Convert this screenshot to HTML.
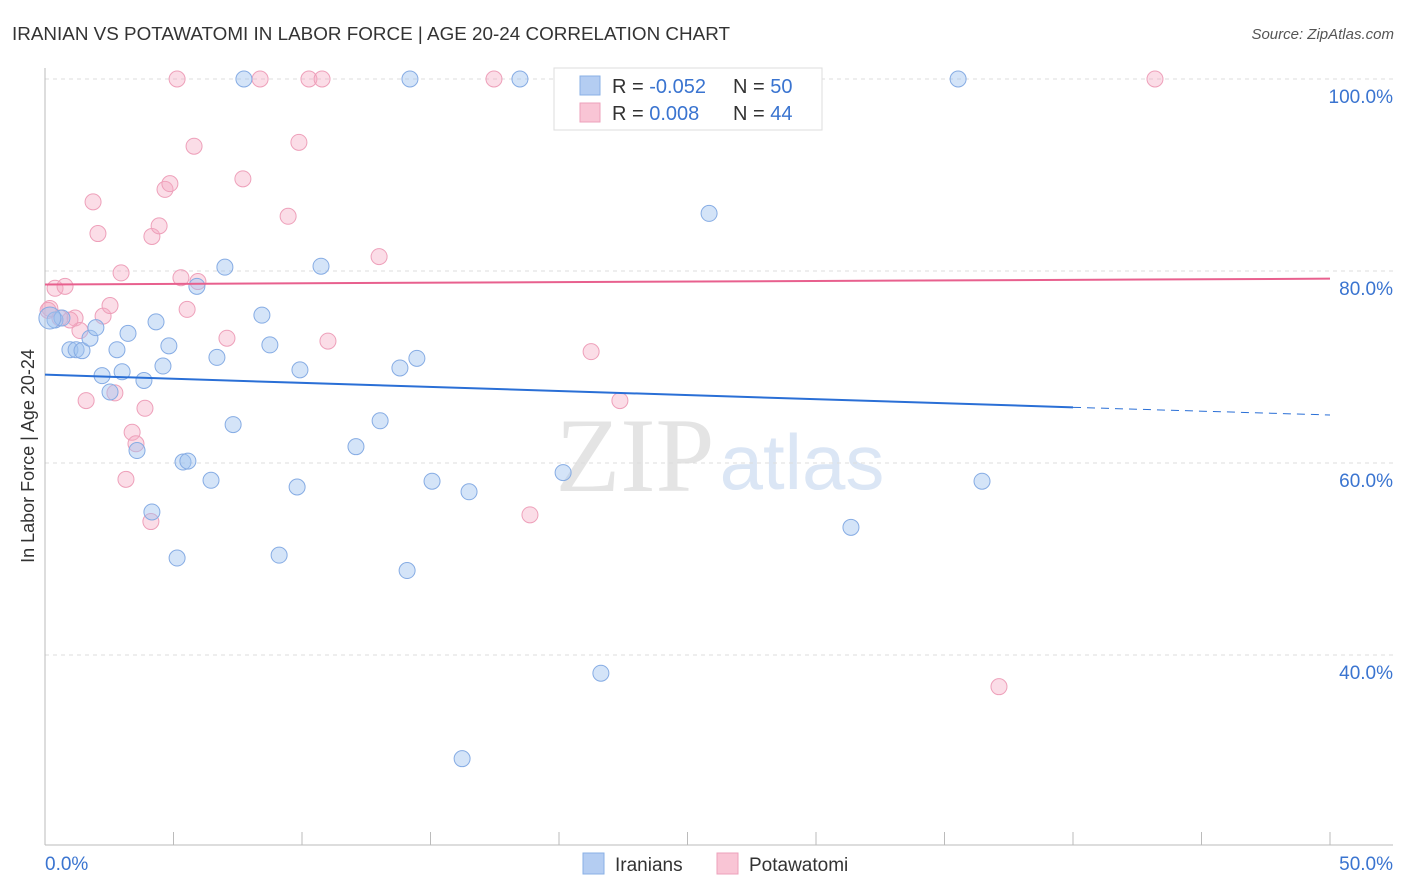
<!DOCTYPE html>
<html><head><meta charset="utf-8"><style>
body{margin:0;background:#fff;font-family:"Liberation Sans",sans-serif;}
svg{display:block}
</style></head><body>
<svg id="chart" width="1406" height="892">
<text x="12" y="40" font-size="18" fill="#333" textLength="718" lengthAdjust="spacingAndGlyphs">IRANIAN VS POTAWATOMI IN LABOR FORCE | AGE 20-24 CORRELATION CHART</text>
<text x="1394" y="39" font-size="15" fill="#555" font-style="italic" text-anchor="end">Source: ZipAtlas.com</text>
<g><text x="635" y="491" font-size="106" fill="#e4e4e4" font-family="Liberation Serif, serif" text-anchor="middle">ZIP</text><text x="802" y="489" font-size="78" fill="#dbe6f5" text-anchor="middle">atlas</text></g>
<g id="grid"></g>
<g id="axes"></g>
<g id="marks"></g>
<text transform="translate(34,456) rotate(-90)" font-size="18" fill="#333" text-anchor="middle">In Labor Force | Age 20-24</text>
<g>
<rect x="554" y="68" width="268" height="62" fill="#fff" stroke="#ddd"/>
<rect x="580" y="76" width="20" height="19" fill="#b4cdf2" stroke="#8ab0e6"/>
<rect x="580" y="103" width="20" height="19" fill="#f9c5d5" stroke="#eda1bb"/>
<text x="612" y="93" font-size="20" fill="#333">R = <tspan fill="#3a74d0">-0.052</tspan></text>
<text x="733" y="93" font-size="20" fill="#333">N = <tspan fill="#3a74d0">50</tspan></text>
<text x="612" y="120" font-size="20" fill="#333">R = <tspan fill="#3a74d0"> 0.008</tspan></text>
<text x="733" y="120" font-size="20" fill="#333">N = <tspan fill="#3a74d0">44</tspan></text>
</g>
<g>
<rect x="583" y="853" width="21" height="21" fill="#b4cdf2" stroke="#8ab0e6"/>
<text x="615" y="871" font-size="19" fill="#333">Iranians</text>
<rect x="717" y="853" width="21" height="21" fill="#f9c5d5" stroke="#eda1bb"/>
<text x="749" y="871" font-size="19" fill="#333">Potawatomi</text>
</g>
</svg>
<script>
const blueX=[0.39,0.66,0.97,1.21,1.44,1.75,1.98,2.22,2.53,2.80,3.00,3.23,3.85,3.58,4.16,4.32,4.59,4.82,5.14,5.37,5.56,5.91,6.46,6.69,7.00,7.32,7.74,8.44,8.75,9.11,9.81,9.92,10.74,12.10,13.04,13.81,14.09,14.20,14.47,15.06,16.23,16.50,18.48,20.16,21.63,25.84,31.36,35.53,36.46,0.19];
const blueY=[74.9,75.1,71.8,71.8,71.7,73.0,74.1,69.1,67.4,71.8,69.5,73.5,68.6,61.3,54.9,74.7,70.1,72.2,50.1,60.1,60.2,78.4,58.2,71.0,80.4,64.0,100,75.4,72.3,50.4,57.5,69.7,80.5,61.7,64.4,69.9,48.8,100,70.9,58.1,29.2,57.0,100,59.0,38.1,86.0,53.3,100,58.1,75.1];
const pinkX=[0.19,0.39,0.78,0.58,1.17,1.36,1.60,1.87,2.06,2.26,2.53,2.72,2.96,3.15,3.39,3.54,3.89,4.12,4.16,4.44,4.67,4.86,5.14,5.29,5.53,5.80,5.95,7.08,7.70,8.37,9.46,9.88,10.27,10.78,11.01,13.00,17.47,18.87,21.25,22.37,37.12,43.19,0.12,0.97];
const pinkY=[76.1,78.2,78.4,75.1,75.1,73.8,66.5,87.2,83.9,75.3,76.4,67.3,79.8,58.3,63.2,62.0,65.7,53.9,83.6,84.7,88.5,89.1,100,79.3,76.0,93.0,78.9,73.0,89.6,100,85.7,93.4,100,100,72.7,81.5,100,54.6,71.6,66.5,36.7,100,75.9,74.9];
const blueTrend=[69.2,65.8,65.0]; // at x=0,40,50
const pinkTrend=[78.6,79.2]; // at x=0,50
const yTicks=[100,80,60,40];
const xTicks=[0,5,10,15,20,25,30,35,40,45,50];
const NS="http://www.w3.org/2000/svg";
const sx=v=>45+v*25.7, sy=v=>79+(100-v)*9.6;
function mk(tag,attrs,parent){const e=document.createElementNS(NS,tag);for(const k in attrs)e.setAttribute(k,attrs[k]);document.getElementById(parent).appendChild(e);return e;}
yTicks.forEach(t=>{
 const l=mk('line',{x1:45,x2:1393,y1:sy(t),y2:sy(t),stroke:'#ddd','stroke-dasharray':'4,4'},'grid');
 
 
 const tx=mk('text',{x:1393,y:sy(t)+24,'font-size':19,fill:'#3a74d0','text-anchor':'end'},'grid');
 tx.textContent=t.toFixed(1)+'%';
 
 
});
mk('line',{x1:45,x2:45,y1:68,y2:845,stroke:'#bbb'},'axes');
mk('line',{x1:45,x2:1393,y1:845,y2:845,stroke:'#bbb'},'axes');
xTicks.forEach(t=>{
 const l=mk('line',{x1:sx(t),x2:sx(t),y1:832,y2:845,stroke:'#bbb'},'axes');
 
 
});
[[0,'start',45],[50,'end',1393]].forEach(([t,a,x])=>{
 const tx=mk('text',{x:x,y:870,'font-size':19,fill:'#3a74d0','text-anchor':a},'axes');
 tx.textContent=t.toFixed(1)+'%';
 
 
});
pinkX.forEach((v,i)=>{
 const c=mk('circle',{cx:sx(v),cy:sy(pinkY[i]),r:8,fill:'rgba(245,170,195,0.4)',stroke:'#eea0ba','stroke-width':1},'marks');
 
 
});
blueX.forEach((v,i)=>{
 const c=mk('circle',{cx:sx(v),cy:sy(blueY[i]),r:i==49?11:8,fill:'rgba(160,195,240,0.45)',stroke:'#86ace4','stroke-width':1},'marks');
 
 
});
let l=mk('line',{x1:sx(0),y1:sy(blueTrend[0]),x2:sx(40),y2:sy(blueTrend[1]),stroke:'#2a6fd6','stroke-width':2},'marks');


l=mk('line',{x1:sx(40),y1:sy(blueTrend[1]),x2:sx(50),y2:sy(blueTrend[2]),stroke:'#2a6fd6','stroke-width':1,'stroke-dasharray':'8,6'},'marks');


l=mk('line',{x1:sx(0),y1:sy(pinkTrend[0]),x2:sx(50),y2:sy(pinkTrend[1]),stroke:'#e8608e','stroke-width':2},'marks');


</script>
</body></html>
